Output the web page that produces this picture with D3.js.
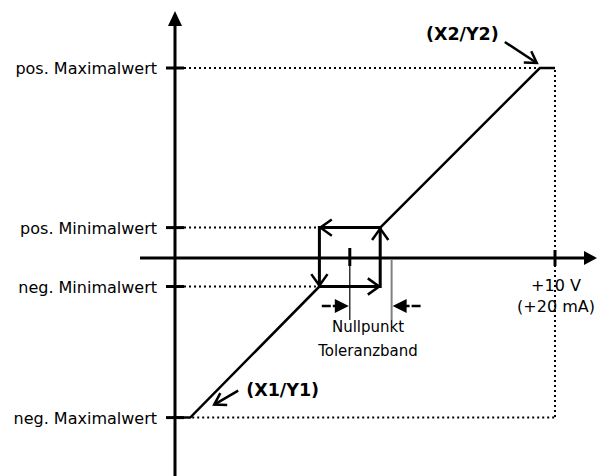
<!DOCTYPE html>
<html><head><meta charset="utf-8">
<script src="https://cdn.jsdelivr.net/npm/d3@7/dist/d3.min.js"></script>
<style>html,body{margin:0;padding:0;background:#fff;}svg{display:block;}</style>
</head><body>
<svg id="c" width="597" height="476"></svg>
<script>
// ---- data ----
const yLevelValues = [10, 1.6, -1.5, -8.4];
const yLevelLabels = ["pos. Maximalwert", "pos. Minimalwert", "neg. Minimalwert", "neg. Maximalwert"];
const xTickValues = [10];
const xTickLabels = ["+10 V", "(+20 mA)"];
const lowerX = [0, 0.4, 3.8];
const lowerY = [-8.4, -8.4, -1.5];
const upperX = [5.4, 9.6, 10];
const upperY = [1.6, 10, 10];
const hystX = [3.8, 5.4];      // box left / right
const hystY = [-1.5, 1.6];     // box bottom / top
const zeroPoint = 4.6;
const toleranceEdge = 5.7;
const pointLabels = ["(X1/Y1)", "(X2/Y2)"];
const zoneLabels = ["Nullpunkt", "Toleranzband"];

const svg = d3.select("#c");
const x = d3.scaleLinear().domain([0, 10]).range([175, 555]);
const y = d3.scaleLinear().domain([0, 10]).range([258, 68]);
const FONT = "'DejaVu Sans', Verdana, sans-serif";

// dotted guides
const dot = {stroke: "#000", "stroke-width": 2, "stroke-dasharray": "2,3"};
function line(x1, y1, x2, y2, attrs) {
  const l = svg.append("line").attr("x1", x1).attr("y1", y1).attr("x2", x2).attr("y2", y2);
  Object.entries(attrs).forEach(([k, v]) => l.attr(k, v));
  return l;
}
line(x(0) + 9, y(yLevelValues[0]), x(upperX[1]), y(yLevelValues[0]), dot);
line(x(0) + 9, y(yLevelValues[1]), x(hystX[0]), y(yLevelValues[1]), dot);
line(x(0) + 9, y(yLevelValues[2]), x(hystX[0]), y(yLevelValues[2]), dot);
line(x(lowerX[1]) + 2, y(yLevelValues[3]), x(xTickValues[0]), y(yLevelValues[3]), dot);
line(x(xTickValues[0]), y(upperY[2]) + 2, x(xTickValues[0]), y(yLevelValues[3]), dot);

// axes
const solid3 = {stroke: "#000", "stroke-width": 3};
line(x(0), 24, x(0), 476, solid3);
svg.append("path").attr("d", `M${x(0)},11 L${x(0) - 7},26 L${x(0) + 7},26 Z`).attr("fill", "#000");
line(140, y(0), 586, y(0), solid3);
svg.append("path").attr("d", `M597,${y(0)} L584,${y(0) - 7} L584,${y(0) + 7} Z`).attr("fill", "#000");

// y level ticks and labels
yLevelValues.forEach((v, i) => {
  line(x(0) - 9, y(v), x(0) + 9, y(v), solid3);
  svg.append("text").attr("x", 157).attr("y", y(v) + 6).attr("text-anchor", "end")
    .attr("font-family", FONT).attr("font-size", 16).attr("fill", "#000").text(yLevelLabels[i]);
});
// x tick
xTickValues.forEach(v => {
  line(x(v), y(0) - 8, x(v), y(0) + 8, solid3);
  xTickLabels.forEach((t, j) => {
    svg.append("text").attr("x", x(v) + 1).attr("y", y(0) + 33 + j * 21).attr("text-anchor", "middle")
      .attr("font-family", FONT).attr("font-size", 16).attr("fill", "#000").text(t);
  });
});

// transfer curve
const lg = d3.line().x(d => x(d[0])).y(d => y(d[1]));
svg.append("path").attr("d", lg(lowerX.map((d, i) => [d, lowerY[i]])))
  .attr("fill", "none").attr("stroke", "#000").attr("stroke-width", 2.5);
svg.append("path").attr("d", lg(upperX.map((d, i) => [d, upperY[i]])))
  .attr("fill", "none").attr("stroke", "#000").attr("stroke-width", 2.5);

// hysteresis box
const L = x(hystX[0]), R = x(hystX[1]), B = y(hystY[0]), T = y(hystY[1]);
svg.append("path").attr("d", `M${L},${T} H${R} V${B} H${L} Z`)
  .attr("fill", "none").attr("stroke", "#000").attr("stroke-width", 3);
function openHead(tx, ty, ang, len, spread, w) {
  const a1 = ang + Math.PI - spread, a2 = ang + Math.PI + spread;
  svg.append("path").attr("d",
    `M${tx + len * Math.cos(a1)},${ty + len * Math.sin(a1)} L${tx},${ty} L${tx + len * Math.cos(a2)},${ty + len * Math.sin(a2)}`)
    .attr("fill", "none").attr("stroke", "#000").attr("stroke-width", w).attr("stroke-linejoin", "miter");
}
openHead(L + 1, T, Math.PI, 14, 0.62, 2.5);          // top edge → left
openHead(R, T + 1, -Math.PI / 2, 14, 0.62, 2.5);     // right edge → up
openHead(L, B - 1, Math.PI / 2, 14, 0.62, 2.5);      // left edge → down
openHead(R - 1, B, 0, 14, 0.62, 2.5);                // bottom edge → right

// zero point marker and tolerance edge
line(x(zeroPoint), y(0) - 10, x(zeroPoint), y(0) + 8, {stroke: "#000", "stroke-width": 3});
line(x(zeroPoint), y(0), x(zeroPoint), y(0) + 62, {stroke: "#000", "stroke-width": 1.2});
line(x(toleranceEdge), y(0) + 1, x(toleranceEdge), y(0) + 62, {stroke: "#808080", "stroke-width": 2});

// small filled arrows
const ay = y(0) + 48;
function filledArrow(x0, x1, yy) {
  const dir = Math.sign(x1 - x0);
  line(x0, yy, x1 - dir * 11, yy, {stroke: "#000", "stroke-width": 2.5, "stroke-dasharray": "9,2"});
  svg.append("path").attr("d", `M${x1},${yy} L${x1 - dir * 14},${yy - 7} L${x1 - dir * 14},${yy + 7} Z`).attr("fill", "#000");
}
filledArrow(x(zeroPoint) - 28, x(zeroPoint) - 1, ay);
filledArrow(x(toleranceEdge) + 29, x(toleranceEdge) + 1, ay);

zoneLabels.forEach((t, j) => {
  svg.append("text").attr("x", 368).attr("y", y(0) + 74 + j * 24).attr("text-anchor", "middle")
    .attr("font-family", FONT).attr("font-size", 15).attr("fill", "#000").text(t);
});

// point labels with arrows
const p1 = [x(lowerX[1]), y(lowerY[1])];
const p2 = [x(upperX[1]), y(upperY[1])];
svg.append("text").attr("x", p1[0] + 56).attr("y", p1[1] - 22).attr("font-family", FONT)
  .attr("font-weight", "bold").attr("font-size", 17.5).attr("fill", "#000").text(pointLabels[0]);
svg.append("text").attr("x", p2[0] - 41).attr("y", p2[1] - 28).attr("text-anchor", "end").attr("font-family", FONT)
  .attr("font-weight", "bold").attr("font-size", 17.5).attr("fill", "#000").text(pointLabels[1]);
function annArrow(x0, y0, x1, y1) {
  line(x0, y0, x1, y1, {stroke: "#000", "stroke-width": 2.5});
  openHead(x1, y1, Math.atan2(y1 - y0, x1 - x0), 13, 0.55, 2.5);
}
annArrow(p1[0] + 48, p1[1] - 27, p1[0] + 24, p1[1] - 13);
annArrow(p2[0] - 35, p2[1] - 26, p2[0] - 3, p2[1] - 5);
</script>
</body></html>
